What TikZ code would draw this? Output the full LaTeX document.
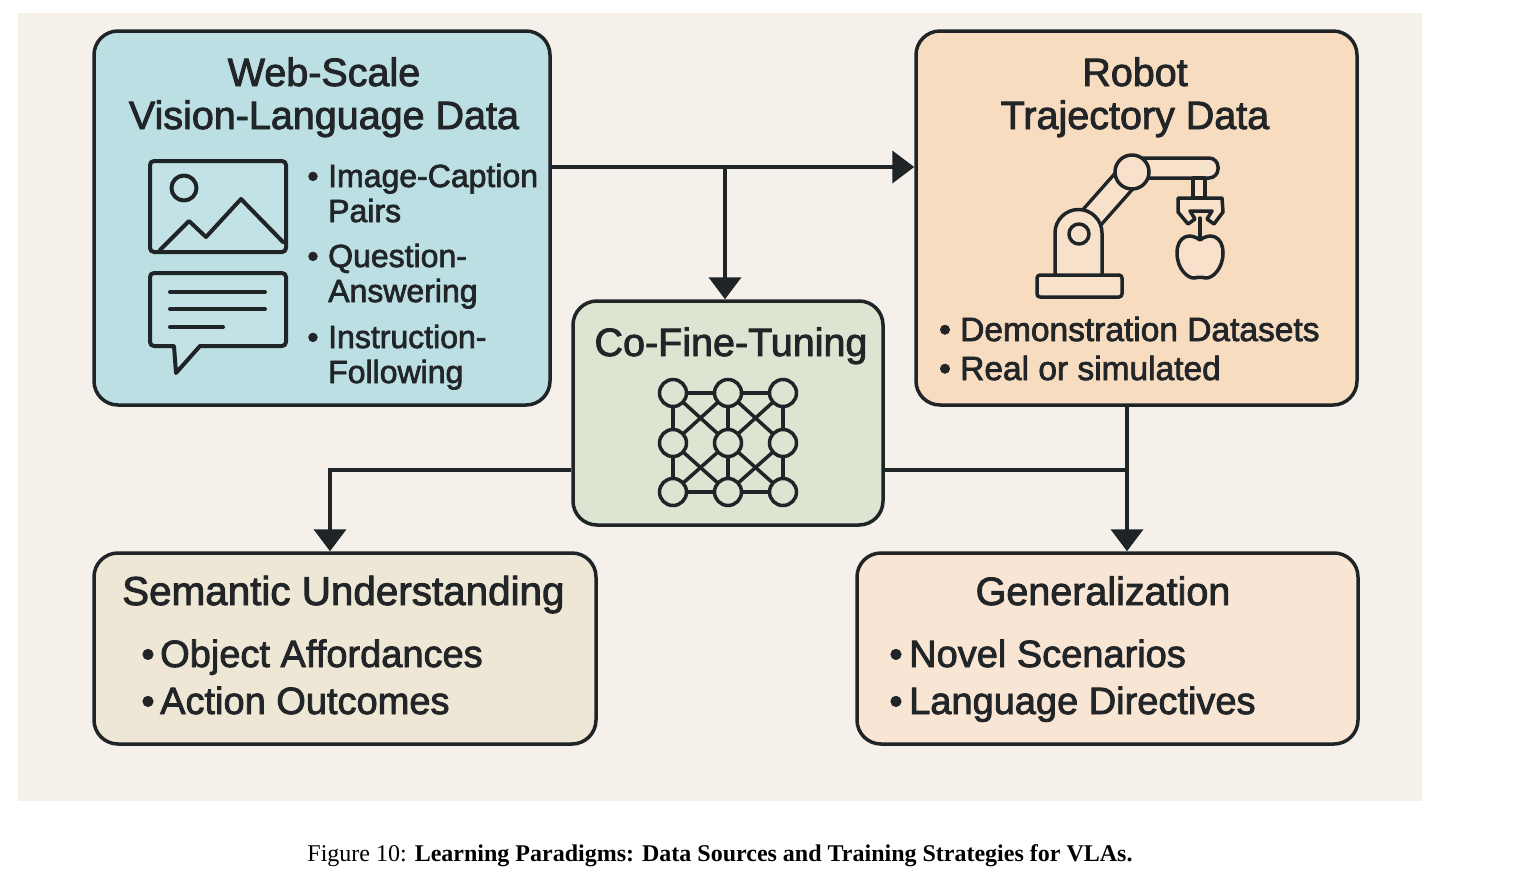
\documentclass[tikz,border=0pt]{standalone}
\usepackage{fontspec}
\usetikzlibrary{arrows.meta}
\newfontfamily\labfont{Liberation Sans}[FakeBold=2.2]
\newfontfamily\capfont{Liberation Serif}
\definecolor{bg}{HTML}{F5F0E9}
\definecolor{webc}{HTML}{BCDFE3}
\definecolor{webi}{HTML}{C3E2E6}
\definecolor{robc}{HTML}{F7DCC0}
\definecolor{robi}{HTML}{F8E1CA}
\definecolor{cftc}{HTML}{DCE5D2}
\definecolor{semc}{HTML}{EFE7D5}
\definecolor{genc}{HTML}{F8E5D4}
\definecolor{ln}{HTML}{1F2427}
\definecolor{tx}{HTML}{222527}
\tikzset{
  box/.style={draw=ln, line width=3.5pt, rounded corners=24pt, inner sep=0pt},
  conn/.style={draw=ln, line width=4pt},
  arr/.style={conn, -{Triangle[length=22pt,width=32pt]}},
  ttl/.style={font=\labfont\fontsize{39.5}{46}\selectfont, text=tx, inner sep=0pt, anchor=base},
  ttlw/.style={font=\labfont\fontsize{40.4}{46}\selectfont, text=tx, inner sep=0pt, anchor=base west},
  itmA/.style={font=\labfont\fontsize{32}{38}\selectfont, text=tx, inner sep=0pt, anchor=base west},
  itmB/.style={font=\labfont\fontsize{33.5}{40}\selectfont, text=tx, inner sep=0pt, anchor=base west},
  itmC/.style={font=\labfont\fontsize{38}{44}\selectfont, text=tx, inner sep=0pt, anchor=base west},
  bulA/.style={font=\labfont\fontsize{32}{38}\selectfont, text=tx, inner sep=0pt, anchor=base},
  bulB/.style={font=\labfont\fontsize{34}{40}\selectfont, text=tx, inner sep=0pt, anchor=base},
  bulC/.style={font=\labfont\fontsize{38}{44}\selectfont, text=tx, inner sep=0pt, anchor=base},
  icon/.style={draw=ln, line width=4pt, line join=round, line cap=round},
}
\begin{document}
\begin{tikzpicture}[x=1pt,y=-1pt]
\useasboundingbox (0,0) rectangle (1519,889);
\fill[bg] (18,13) rectangle (1422,801);

% boxes
\node[box, fill=webc, minimum width=456pt, minimum height=374pt] (web) at (322,218) {};
\node[box, fill=robc, minimum width=441pt, minimum height=374pt] (robot) at (1136.5,218) {};
\node[box, fill=cftc, minimum width=310pt, minimum height=224pt] (cft) at (728,413) {};
\node[box, fill=semc, minimum width=502pt, minimum height=191pt] (sem) at (345,648.5) {};
\node[box, fill=genc, minimum width=501pt, minimum height=191pt] (gen) at (1107.5,648.5) {};

% connectors
\coordinate (j1) at (725,167);
\coordinate (j2) at (330,470);
\coordinate (j3) at (1127,470);
\draw[arr] (web.east |- j1) -- (robot.west |- j1);
\draw[arr] (j1) -- (j1 |- cft.north);
\draw[arr] (cft.west |- j2) -- (j2) -- (j2 |- sem.north);
\draw[conn] (cft.east |- j3) -- (j3);
\draw[arr] (robot.south -| j3) -- (j3 |- gen.north);

% web box text
\node[ttl] (w1) at (324,86) {Web-Scale};
\node[ttl] (w2) at (324,129) {Vision-Language Data};
\node[bulA] (wb1) at (313,187) {•};
\node[itmA] (wi1) at (328,187) {Image-Caption};
\node[itmA] (wi2) at (328,222) {Pairs};
\node[bulA] (wb2) at (313,267) {•};
\node[itmA] (wi3) at (328,267) {Question-};
\node[itmA] (wi4) at (328,302) {Answering};
\node[bulA] (wb3) at (313,348) {•};
\node[itmA] (wi5) at (328,348) {Instruction-};
\node[itmA] (wi6) at (328,383) {Following};

% image icon
\draw[icon, fill=webi, rounded corners=4pt] (150,161) rectangle (286,252);
\draw[icon] (184,188) circle[radius=12.5];
\draw[icon] (160,250) -- (189,221) -- (206,237) -- (241,199) -- (283,242);
% speech bubble
\draw[icon, fill=webi] (174,346) [rounded corners=4pt] -- (150,346) -- (150,273) -- (286,273) -- (286,346) [sharp corners] -- (200,346) -- (176,373) -- cycle;
\draw[icon] (170,292) -- (265,292);
\draw[icon] (170,309) -- (265,309);
\draw[icon] (170,327) -- (223,327);

% robot box text
\node[ttl] (r1) at (1135,86) {Robot};
\node[ttl] (r2) at (1135,129) {Trajectory Data};
\node[bulB] (rb1) at (945,341) {•};
\node[itmB] (ri1) at (960,341) {Demonstration Datasets};
\node[bulB] (rb2) at (945,380) {•};
\node[itmB] (ri2) at (960,380) {Real or simulated};

% robot icon
\draw[ln, line width=27pt] (1078,233) -- (1132,172);
\draw[robi, line width=20pt] (1078,233) -- (1132,172);
\draw[icon, line width=3.5pt, fill=robi, rounded corners=9pt] (1128,158) rectangle (1218,178);
\draw[icon, line width=3.5pt, fill=robi] (1193,178) rectangle (1205,198);
\draw[icon, line width=3.5pt, fill=robi] (1178,198) -- (1222,198) -- (1223,212) -- (1214,224) -- (1207,219) -- (1212,211) -- (1190,211) -- (1195,219) -- (1188,224) -- (1178,212) -- cycle;
\draw[icon, line width=3.5pt, fill=robi] (1055,277) -- (1055,233) arc[start angle=180, end angle=360, radius=23.5] -- (1102,277);
\draw[icon, line width=3.5pt, fill=robi, rounded corners=3pt] (1037,275) rectangle (1122,297);
\draw[icon, line width=3.5pt, fill=robi] (1132,172) circle[radius=17];
\draw[icon, line width=3.5pt] (1079,234) circle[radius=10];
\draw[icon, line width=3.5pt] (1200,218) -- (1200,239);
\draw[icon, line width=3.5pt, fill=robi] (1200,240) .. controls (1190,232) and (1177,236) .. (1177,253) .. controls (1177,269) and (1188,279) .. (1195,278) .. controls (1198,277) and (1202,277) .. (1205,278) .. controls (1212,279) and (1223,269) .. (1223,253) .. controls (1223,236) and (1210,232) .. (1200,240) -- cycle;

% co-fine-tuning
\node[ttl] (c1) at (731,356) {Co-Fine-Tuning};
\foreach \r/\s in {393/443,443/492}{
  \draw[icon, line width=3.5pt] (673,\r) -- (728,\s);
  \draw[icon, line width=3.5pt] (728,\r) -- (673,\s);
  \draw[icon, line width=3.5pt] (728,\r) -- (783,\s);
  \draw[icon, line width=3.5pt] (783,\r) -- (728,\s);
}
\draw[icon, line width=3.5pt] (673,393) -- (783,393);
\draw[icon, line width=3.5pt] (673,492) -- (783,492);
\foreach \c in {673,728,783}{
  \draw[icon, line width=3.5pt] (\c,393) -- (\c,492);
}
\foreach \c in {673,728,783}{
  \foreach \r in {393,443,492}{
    \draw[icon, line width=3.5pt, fill=cftc] (\c,\r) circle[radius=13.5];
  }
}

% semantic
\node[ttlw] (s1) at (122,605) {Semantic Understanding};
\node[bulC] (sb1) at (148,667) {•};
\node[itmC] (si1) at (160,667) {Object Affordances};
\node[bulC] (sb2) at (148,714) {•};
\node[itmC] (si2) at (160,714) {Action Outcomes};

% generalization
\node[ttl] (g1) at (1103,605) {Generalization};
\node[bulC] (gb1) at (896,667) {•};
\node[itmC] (gi1) at (909,667) {Novel Scenarios};
\node[bulC] (gb2) at (896,714) {•};
\node[itmC] (gi2) at (909,714) {Language Directives};

% caption
\node[font=\capfont\fontsize{24}{28}\selectfont, text=black, inner sep=0pt, anchor=base] (cap) at (720,861) {Figure 10: \textbf{Learning Paradigms: Data Sources and Training Strategies for VLAs.}};
\end{tikzpicture}
\end{document}
